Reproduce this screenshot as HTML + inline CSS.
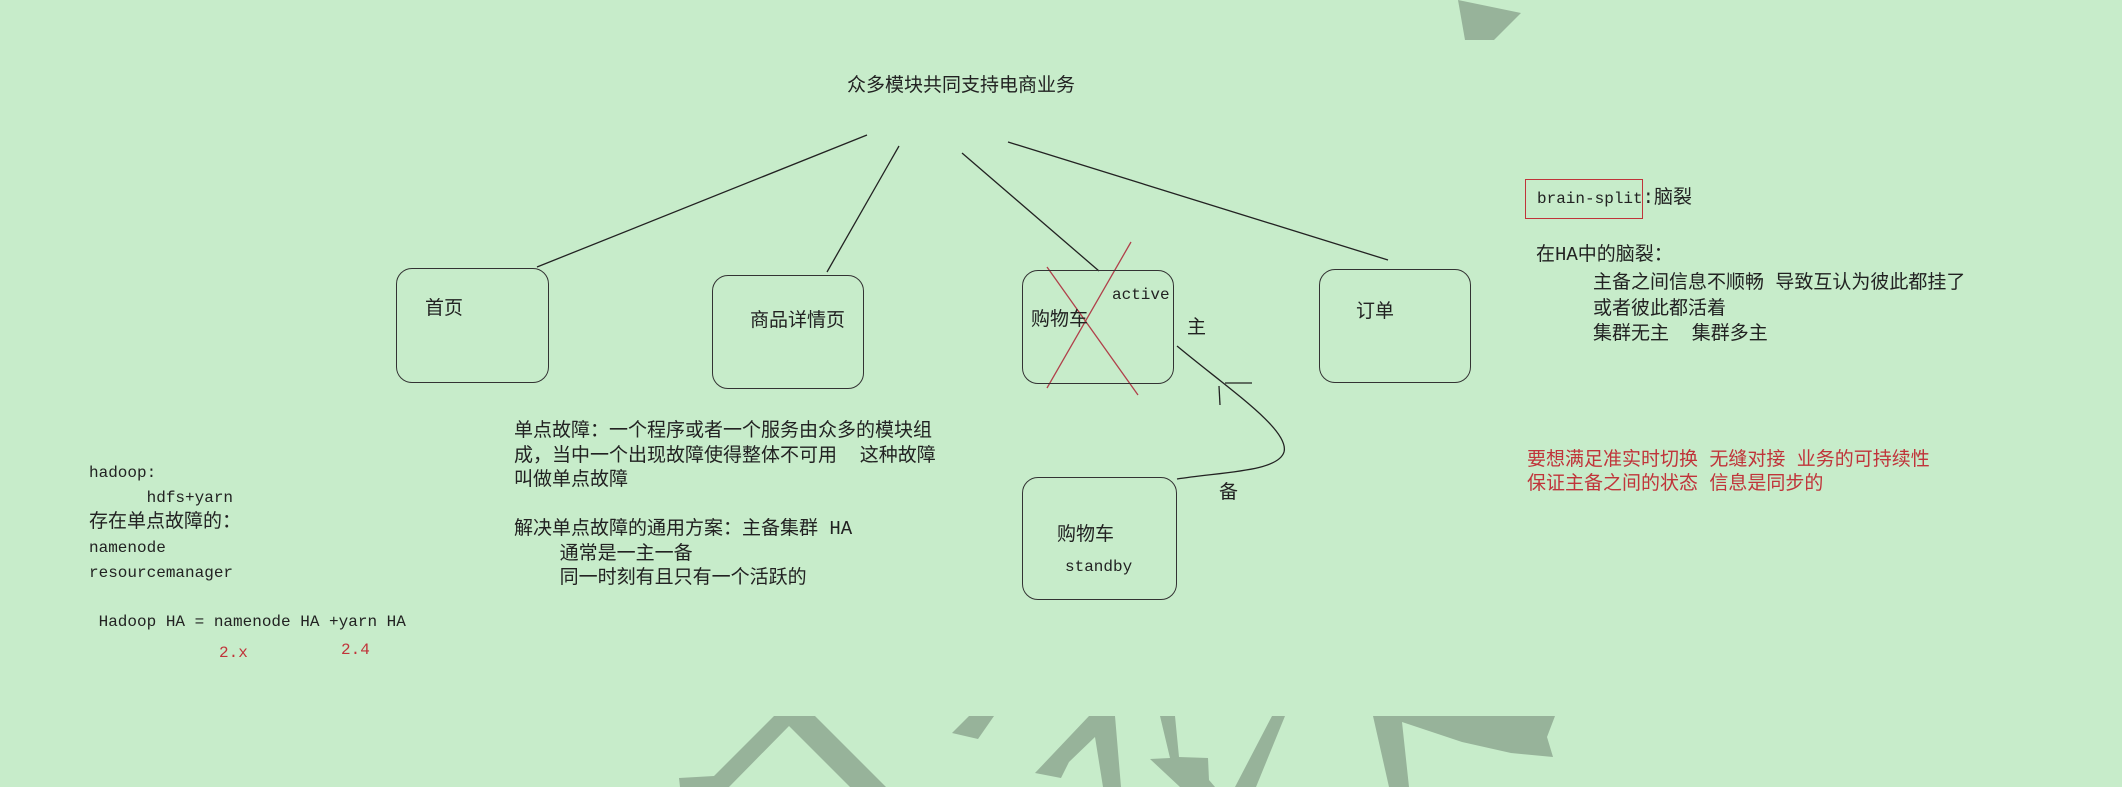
<!DOCTYPE html>
<html><head><meta charset="utf-8"><style>
html,body{margin:0;padding:0}
body{width:2122px;height:787px;background:#c7ecca;position:relative;overflow:hidden;font-family:"Liberation Mono","Noto Sans CJK SC",monospace;color:#222}
.t{position:absolute;white-space:pre;font-size:16px;line-height:20px}
.c{font-size:19px}
.r{color:#c0343a}
.b{position:absolute;border:1.5px solid #333;border-radius:16px;box-sizing:border-box}
svg{position:absolute;left:0;top:0}
</style></head><body>
<svg width="2122" height="787">
<g fill="#97b39a">
<polygon points="1458,0 1521,13 1494,40 1465,40"/>
<polygon points="774,716 815,716 886,787 850,787 789,726 729,787 680,787 679,778 714,776"/>
<polygon points="969,716 994,716 978,739 952,733"/>
<polygon points="1089,716 1115,716 1121,787 1103,787 1095,737 1069,762 1061,778 1035,773"/>
<polygon points="1160,716 1175,716 1179,757 1208,758 1209,780 1215,787 1180,787 1150,759 1170,758"/>
<polygon points="1272,716 1285,716 1256,787 1235,787"/>
<polygon points="1373,716 1555,716 1547,737 1553,757 1511,753 1462,742 1402,722 1409,787 1389,787"/>
</g>
<g stroke="#222" stroke-width="1.3" fill="none">
<line x1="867" y1="135" x2="537" y2="267"/>
<line x1="899" y1="146" x2="827" y2="272"/>
<line x1="962" y1="153" x2="1099" y2="271"/>
<line x1="1008" y1="142" x2="1388" y2="260"/>
<path d="M1177,346 C1230,390 1290,430 1284,452 C1278,472 1220,472 1177,479"/>
<line x1="1225" y1="383" x2="1252" y2="383"/>
<line x1="1219" y1="386" x2="1220" y2="405"/>
</g>
<g stroke="#b0404a" stroke-width="1.3">
<line x1="1047" y1="267" x2="1138" y2="395"/>
<line x1="1131" y1="242" x2="1047" y2="388"/>
</g>
</svg>
<div class="b" style="left:396px;top:268px;width:153px;height:115px"></div>
<div class="b" style="left:712px;top:275px;width:152px;height:114px"></div>
<div class="b" style="left:1022px;top:270px;width:152px;height:114px"></div>
<div class="b" style="left:1319px;top:269px;width:152px;height:114px"></div>
<div class="b" style="left:1022px;top:477px;width:155px;height:123px"></div>
<div style="position:absolute;left:1525px;top:179px;width:118px;height:40px;border:1px solid #c0343a;box-sizing:border-box"></div>

<div class="t c" style="left:847px;top:76px">众多模块共同支持电商业务</div>
<div class="t c" style="left:425px;top:299px">首页</div>
<div class="t c" style="left:750px;top:311px">商品详情页</div>
<div class="t c" style="left:1031px;top:310px">购物车</div>
<div class="t" style="left:1112px;top:285px">active</div>
<div class="t c" style="left:1187px;top:318px">主</div>
<div class="t c" style="left:1356px;top:302px">订单</div>
<div class="t c" style="left:1219px;top:483px">备</div>
<div class="t c" style="left:1057px;top:525px">购物车</div>
<div class="t" style="left:1065px;top:557px">standby</div>

<div class="t" style="left:1537px;top:188px">brain-split<span class="c">:脑裂</span></div>
<div class="t c" style="left:1536px;top:245px">在HA中的脑裂：</div>
<div class="t c" style="left:1593px;top:271px;line-height:25.5px">主备之间信息不顺畅 导致互认为彼此都挂了
或者彼此都活着
集群无主  集群多主</div>
<div class="t c r" style="left:1527px;top:448px;line-height:24px">要想满足准实时切换 无缝对接 业务的可持续性
保证主备之间的状态 信息是同步的</div>

<div class="t c" style="left:514px;top:419px;line-height:24.5px">单点故障：一个程序或者一个服务由众多的模块组
成，当中一个出现故障使得整体不可用  这种故障
叫做单点故障

解决单点故障的通用方案：主备集群 HA
    通常是一主一备
    同一时刻有且只有一个活跃的</div>

<div class="t" style="left:89px;top:461px;line-height:24.7px">hadoop:
      hdfs+yarn
<span class="c">存在单点故障的：</span>
namenode
resourcemanager

 Hadoop HA = namenode HA +yarn HA</div>
<div class="t r" style="left:219px;top:643px">2.x</div>
<div class="t r" style="left:341px;top:640px">2.4</div>
</body></html>
